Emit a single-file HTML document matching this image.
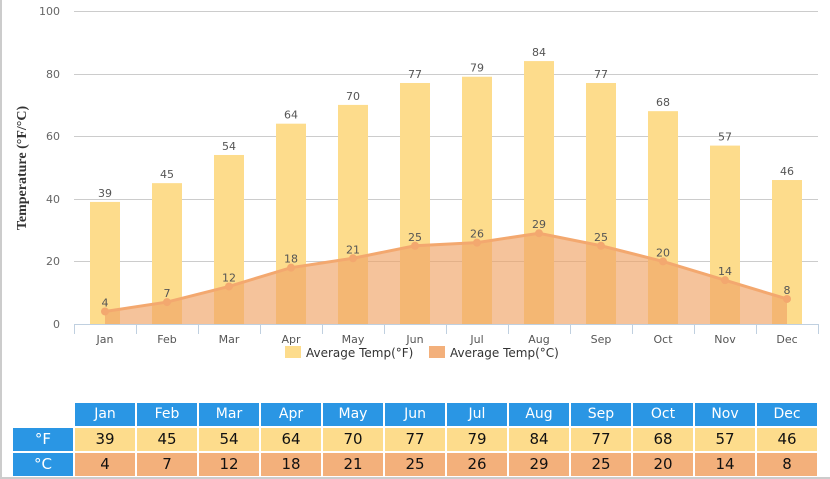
<!DOCTYPE html>
<html><head><meta charset="utf-8"><style>
body{margin:0;width:830px;height:479px;overflow:hidden;background:#fff;font-family:"DejaVu Sans","Liberation Sans",sans-serif}
#wrap{position:absolute;left:0;top:0;width:828px;height:477px;border-left:2px solid #ccc;border-bottom:2px solid #ccc;border-right:1px solid #ddd}
.c{position:absolute;height:23px;line-height:23px;text-align:center;width:60px}
</style></head><body><div id="wrap"></div>
<svg width="830" height="400" style="position:absolute;left:0;top:0" font-family="DejaVu Sans, Liberation Sans, sans-serif">
<g stroke="#ccc" stroke-width="1">
<line x1="74" x2="818" y1="11.5" y2="11.5"/><line x1="74" x2="818" y1="74.5" y2="74.5"/><line x1="74" x2="818" y1="136.5" y2="136.5"/><line x1="74" x2="818" y1="199.5" y2="199.5"/><line x1="74" x2="818" y1="261.5" y2="261.5"/>
</g>
<g font-size="11" fill="#666" text-anchor="end">
<text x="60" y="15">100</text><text x="60" y="78">80</text><text x="60" y="140">60</text><text x="60" y="203">40</text><text x="60" y="265">20</text><text x="60" y="328">0</text>
</g>
<text transform="translate(26,168) rotate(-90)" text-anchor="middle" font-family="Liberation Serif, serif" font-size="14" font-weight="bold" fill="#333">Temperature (°F/°C)</text>
<g id="bars" fill="#fddc8c"></g>
<path id="area" fill="#f0a366" fill-opacity="0.65"/>
<polyline id="line" fill="none" stroke="#f3a86f" stroke-width="3"/>
<g id="dots" fill="#f3a86f"></g>
<g id="lbl" font-size="11" fill="#555" text-anchor="middle"></g>
<line x1="74" x2="818" y1="324.5" y2="324.5" stroke="#c0d0e0"/>
<g id="ticks" stroke="#c0d0e0"></g>
<g id="xl" font-size="11" fill="#555" text-anchor="middle"></g>
<rect x="285" y="346" width="16" height="12" fill="#fddc8c"/><text x="306" y="357" font-size="12" fill="#333">Average Temp(°F)</text>
<rect x="429" y="346" width="16" height="12" fill="#f3b07b"/><text x="450" y="357" font-size="12" fill="#333">Average Temp(°C)</text>
</svg>
<div id="tbl"></div>
<script>
var m=["Jan","Feb","Mar","Apr","May","Jun","Jul","Aug","Sep","Oct","Nov","Dec"],F=[39,45,54,64,70,77,79,84,77,68,57,46],C=[4,7,12,18,21,25,26,29,25,20,14,8];
var ns="http://www.w3.org/2000/svg";function el(t,a,p,tx){var e=document.createElementNS(ns,t);for(var k in a)e.setAttribute(k,a[k]);if(tx!=null)e.textContent=tx;document.getElementById(p).appendChild(e);}
function y(v){return 324-v*3.13}
var pts=[];
for(var i=0;i<12;i++){var cx=105+62*i;
el("rect",{x:cx-15,y:y(F[i]),width:30,height:324-y(F[i])},"bars");
el("text",{x:cx,y:y(F[i])-5},"lbl",F[i]);
el("text",{x:cx,y:y(C[i])-5},"lbl",C[i]);
el("circle",{cx:cx,cy:y(C[i]),r:4},"dots");
el("line",{x1:74+62*i+.5,x2:74+62*i+.5,y1:324,y2:334},"ticks");
el("text",{x:cx,y:343},"xl",m[i]);
pts.push(cx+","+y(C[i]));}
el("line",{x1:818.5,x2:818.5,y1:324,y2:334},"ticks");
document.getElementById("line").setAttribute("points",pts.join(" "));
document.getElementById("area").setAttribute("d","M105,324L"+pts.join("L")+"L787,324Z");
var h="";
h+='<div class="c" style="left:13px;top:428px;background:#2a96e4;color:#fff;font-size:15px">°F</div>';
h+='<div class="c" style="left:13px;top:453px;background:#2a96e4;color:#fff;font-size:15px">°C</div>';
for(i=0;i<12;i++){var x=75+62*i;
h+='<div class="c" style="left:'+x+'px;top:403px;background:#2a96e4;color:#fff;font-size:14px">'+m[i]+'</div>';
h+='<div class="c" style="left:'+x+'px;top:428px;background:#fddc8c;color:#111;font-size:15px">'+F[i]+'</div>';
h+='<div class="c" style="left:'+x+'px;top:453px;background:#f3b07b;color:#111;font-size:15px">'+C[i]+'</div>';}
document.getElementById("tbl").innerHTML=h;
</script></body></html>
